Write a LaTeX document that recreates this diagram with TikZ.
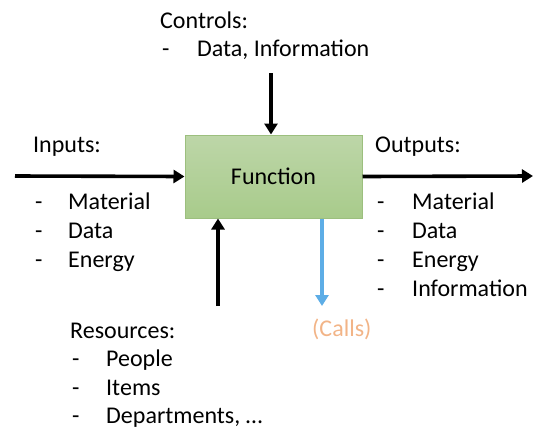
\documentclass[tikz,border=0pt]{standalone}
\usepackage{fontspec}
\setmainfont{Carlito}
\usetikzlibrary{arrows.meta}
\definecolor{boxtop}{HTML}{BDD6A8}
\definecolor{boxbot}{HTML}{A8CB8B}
\definecolor{boxline}{HTML}{9CBF7E}
\definecolor{callblue}{HTML}{5DADE6}
\definecolor{callorange}{HTML}{F2B487}
\tikzset{
  lbl/.style={inner sep=0pt, anchor=base west, font=\fontsize{24}{28}\selectfont},
  flow/.style={line width=3.6pt, -{Triangle[length=11pt,width=13pt]}},
  fbox/.style={draw=boxline, line width=1pt, top color=boxtop, bottom color=boxbot,
    minimum width=177pt, minimum height=83pt, inner sep=0pt, font=\fontsize{24}{28}\selectfont}
}
\begin{document}
\begin{tikzpicture}[x=1pt,y=-1pt]
\useasboundingbox (0,0) rectangle (533,429);
\node[fbox] (fn) at (273.5,176.5) {Function};
% connectors
\coordinate (ctop) at (271,73);
\coordinate (inL) at (15,176);
\coordinate (outR) at (533,176);
\coordinate (resB) at (218,306);
\coordinate (callB) at (322,306);
\draw[flow] (ctop) -- (ctop |- fn.north);
\draw[flow] (inL) -- (fn.west);
\draw[flow] (fn.east) -- (outR);
\draw[flow] (resB) -- (resB |- fn.south);
\draw[flow, draw=callblue, fill=callblue] (callB |- fn.south) -- (callB);
% controls
\node[lbl] (ctl) at (160,28) {Controls:};
\node[lbl] (ctld) at (162,56) {-};
\node[lbl] (ctl1) at (197,56) {Data, Information};
% inputs
\node[lbl] (inp) at (33,152) {Inputs:};
\node[lbl] (ind1) at (35,209) {-};
\node[lbl] (in1) at (68,209) {Material};
\node[lbl] (ind2) at (35,238) {-};
\node[lbl] (in2) at (68,238) {Data};
\node[lbl] (ind3) at (35,267) {-};
\node[lbl] (in3) at (68,267) {Energy};
% outputs
\node[lbl] (outp) at (375,152) {Outputs:};
\node[lbl] (outd1) at (377,209) {-};
\node[lbl] (out1) at (412,209) {Material};
\node[lbl] (outd2) at (377,238) {-};
\node[lbl] (out2) at (412,238) {Data};
\node[lbl] (outd3) at (377,267) {-};
\node[lbl] (out3) at (412,267) {Energy};
\node[lbl] (outd4) at (377,296) {-};
\node[lbl] (out4) at (412,296) {Information};
% resources
\node[lbl] (res) at (70,338) {Resources:};
\node[lbl] (resd1) at (72,366) {-};
\node[lbl] (res1) at (106,366) {People};
\node[lbl] (resd2) at (72,395) {-};
\node[lbl] (res2) at (106,395) {Items};
\node[lbl] (resd3) at (72,423) {-};
\node[lbl] (res3) at (106,423) {Departments, …};
% calls
\node[lbl, text=callorange] (calls) at (312,336) {(Calls)};
\end{tikzpicture}
\end{document}
